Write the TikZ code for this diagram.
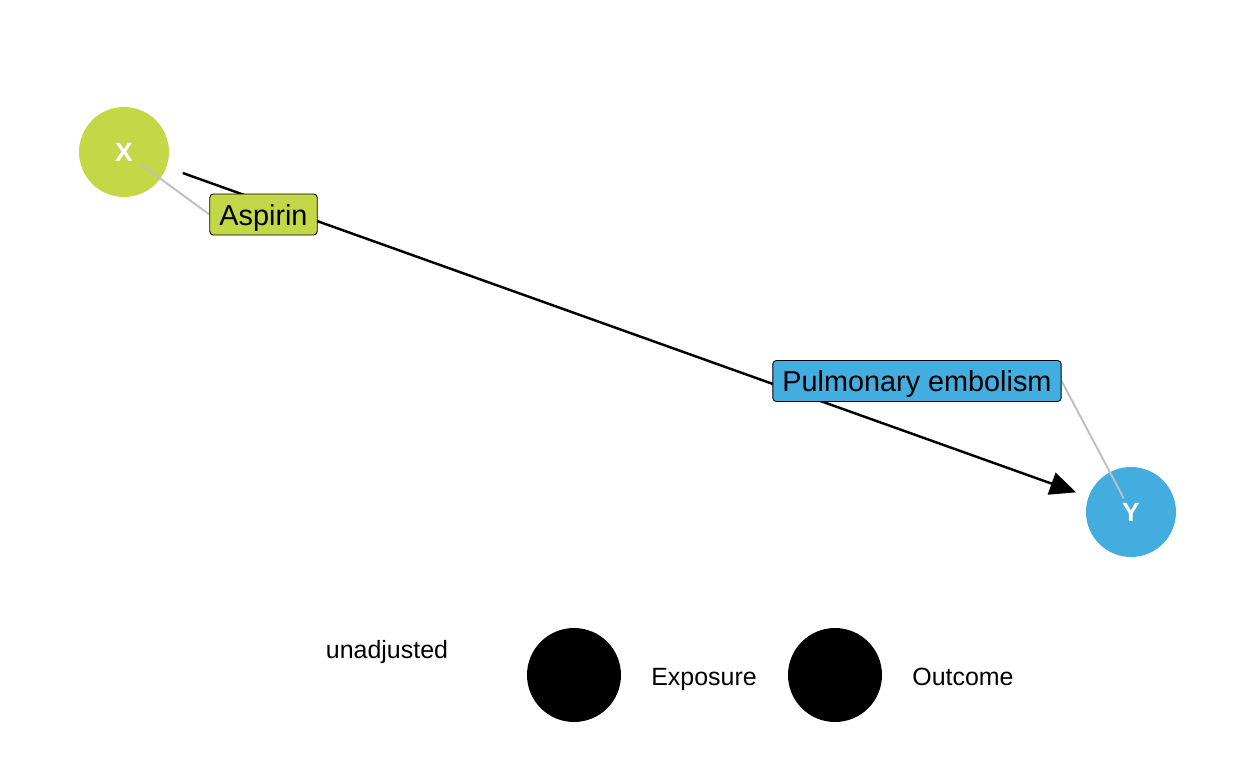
\documentclass[tikz,border=0pt]{standalone}
\usepackage{fontspec}
\setmainfont{Liberation Sans}
\usetikzlibrary{positioning,arrows.meta,backgrounds}

\definecolor{expcol}{RGB}{196,216,71}
\definecolor{outcol}{RGB}{66,173,222}

\begin{document}
\begin{tikzpicture}[
  x=0.02cm, y=-0.02cm,
  %--- dag nodes ---
  dagnode/.style={circle, draw=none, minimum size=1.8cm, inner sep=0pt,
    text=white, font=\fontsize{15}{17}\selectfont\bfseries},
  expnode/.style={dagnode, fill=expcol},
  outnode/.style={dagnode, fill=outcol},
  %--- repelled labels ---
  lbl/.style={draw=black, line width=0.5pt, rounded corners=2pt, inner xsep=5.5pt,
    text height=14.1pt, text depth=2pt, minimum height=0.82cm,
    font=\fontsize{16.4}{18}\selectfont},
  %--- arrows ---
  arr/.style={-{Triangle[length=0.52cm, width=0.46cm]}, line width=1.4pt, draw=black},
  lead/.style={draw=black!25, line width=1.1pt},
  %--- legend ---
  legdot/.style={circle, fill=black, minimum size=1.88cm, inner sep=0pt},
  legtext/.style={anchor=base, font=\fontsize{14.2}{16}\selectfont}
]
\useasboundingbox (0,0) rectangle (1248,768);

%% ── LABELS (on top) ─────────────────────────────────────────────────────────
\node[lbl, fill=expcol] (asp) at (263.5,214.5) {Aspirin};
\node[lbl, fill=outcol] (pe) at (917,381) {Pulmonary embolism};

%% ── DAG NODES and leader lines (underneath) ────────────────────────────────
\begin{scope}[on background layer]
  \node[expnode] (X) at (124,152) {X};
  \node[outnode] (Y) at (1131,512) {Y};
  \draw[lead, shorten <=0.4cm] (X.center) -- (asp.west);
  \draw[lead, shorten <=0.31cm] (Y.center) -- (pe.east);
\end{scope}

%% ── ARROW: exposure -> outcome (behind labels) ─────────────────────────────
\begin{scope}[on background layer]
  \draw[arr, shorten <=0.34cm, shorten >=0.26cm] (X) -- (Y);
\end{scope}

%% ── LEGEND ──────────────────────────────────────────────────────────────────
\node[legtext] (adj) at (387,658) {unadjusted};
\node[legdot] (dotexp) at (574,675) {};
\node[legtext] (txtexp) at (704,685) {Exposure};
\node[legdot] (dotout) at (835,675) {};
\node[legtext] (txtout) at (963,685) {Outcome};
\end{tikzpicture}
\end{document}
